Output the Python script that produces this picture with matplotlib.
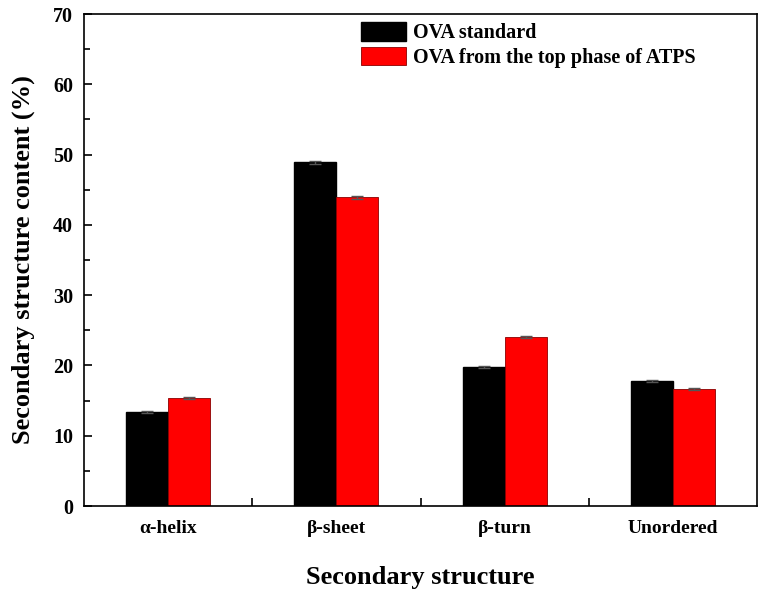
import numpy as np
import matplotlib
matplotlib.use('Agg')
from matplotlib import pyplot as plt
from matplotlib.ticker import MultipleLocator, FixedLocator

plt.rcParams['font.family'] = 'Liberation Serif'
plt.rcParams['font.weight'] = 'bold'

categories = ['\u03b1-helix', '\u03b2-sheet', '\u03b2-turn', 'Unordered']
standard = [13.4, 48.9, 19.8, 17.8]
standard_err = [0.15, 0.2, 0.15, 0.15]
top_phase = [15.4, 43.9, 24.0, 16.7]
top_phase_err = [0.15, 0.2, 0.15, 0.15]

x = np.arange(1, len(categories) + 1)
w = 0.25

fig = plt.figure(figsize=(7.62, 5.97), dpi=100)
ax = fig.add_axes([84 / 762, 1 - 506 / 597, 673 / 762, 492 / 597])

ax.bar(x - w / 2, standard, w, yerr=standard_err, color='black', edgecolor='black',
       error_kw=dict(ecolor='#555555', capsize=4, elinewidth=1), label='OVA standard')
ax.bar(x + w / 2, top_phase, w, yerr=top_phase_err, color='red', edgecolor='#8b0000', linewidth=0.6,
       error_kw=dict(ecolor='#555555', capsize=4, elinewidth=1), label='OVA from the top phase of ATPS')

ax.set_xlim(0.5, 4.5)
ax.set_ylim(0, 70)
ax.yaxis.set_major_locator(MultipleLocator(10))
ax.yaxis.set_minor_locator(MultipleLocator(5))
ax.set_xticks(x)
ax.set_xticklabels(categories)
ax.xaxis.set_minor_locator(FixedLocator([1.5, 2.5, 3.5]))
ax.tick_params(axis='x', which='major', length=0, labelsize=14, pad=10)
ax.tick_params(axis='x', which='minor', direction='in', length=6, width=1.2)
ax.tick_params(axis='y', which='major', direction='in', length=6, width=1.2, labelsize=14.5, pad=8)
ax.tick_params(axis='y', which='minor', direction='in', length=4, width=1.2)
for s in ax.spines.values():
    s.set_linewidth(1.2)

ax.set_xlabel('Secondary structure', fontsize=19, fontweight='bold', labelpad=21)
ax.set_ylabel('Secondary structure content (%)', fontsize=19, fontweight='bold', labelpad=13)

ax.legend(loc='upper left', bbox_to_anchor=(0.385, 1.02), frameon=False, fontsize=14.5,
          handlelength=2.2, handleheight=1.05, handletextpad=0.35, labelspacing=0.15)

fig.savefig('out.png', dpi=100)
